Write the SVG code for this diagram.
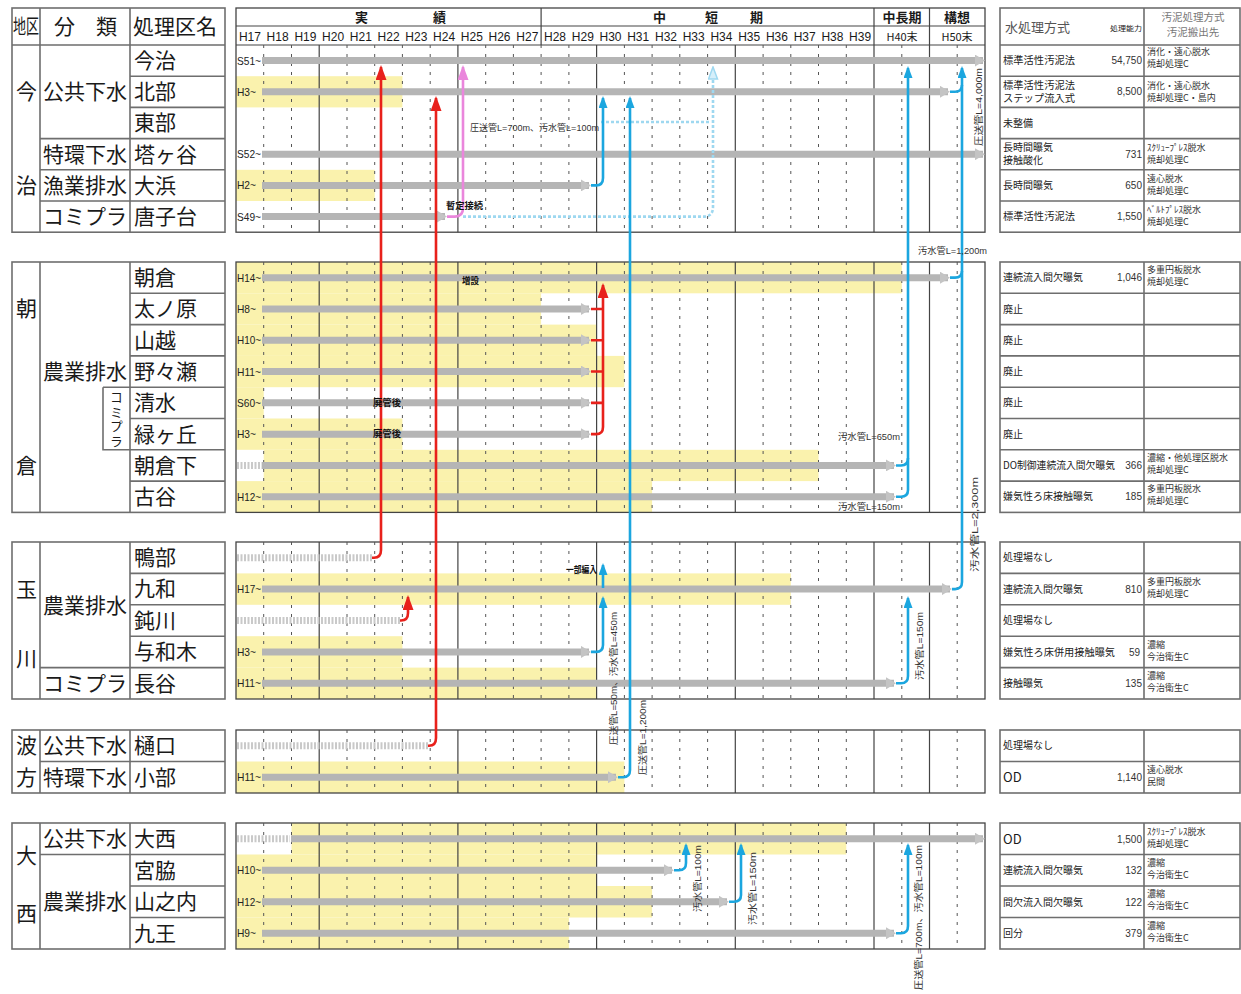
<svg xmlns="http://www.w3.org/2000/svg" width="1241" height="994" viewBox="0 0 1241 994">
<defs>
<style>
.j{font-family:"Noto Sans CJK JP",sans-serif;fill:#1a1a1a}
.big{font-size:21px}
.hd{font-size:13px;font-weight:bold}
.yr{font-family:"Liberation Sans",sans-serif;font-size:12px;fill:#1a1a1a}
.lab{font-family:"Liberation Sans",sans-serif;font-size:11px;fill:#222}
.note{font-family:"Liberation Sans","Noto Sans CJK JP",sans-serif;font-size:9px;fill:#333}
.bnote{font-family:"Noto Sans CJK JP",sans-serif;font-size:9px;font-weight:bold;fill:#111}
.rt{font-family:"Noto Sans CJK JP",sans-serif;font-size:10px;fill:#222}
.rs{font-family:"Noto Sans CJK JP",sans-serif;font-size:9px;fill:#333}
.num{font-family:"Liberation Sans",sans-serif;font-size:10px;fill:#333;text-anchor:end}
.tb{fill:none;stroke:#6e6e6e;stroke-width:1.6}
.box{fill:none;stroke:#444;stroke-width:1.3}
.gs{fill:none;stroke:#444;stroke-width:1.2}
.gd{fill:none;stroke:#555;stroke-width:1;stroke-dasharray:3 6}
.yb{fill:#faf2ad}
.bar{fill:none;stroke:#b5b5b5;stroke-width:7;marker-end:url(#ag)}
.pl{fill:none;stroke:#c9c9c9;stroke-width:7;stroke-dasharray:2 1.5}
.bl{fill:none;stroke:#1ba6df;stroke-width:2.6}
.rd{fill:none;stroke:#e8211b;stroke-width:2.6}
.pk{fill:none;stroke:#ea86dc;stroke-width:2.6}
.lb{fill:none;stroke:#9ed8f0;stroke-width:2.6;stroke-dasharray:3 2}
</style>
<marker id="ag" markerUnits="userSpaceOnUse" viewBox="0 0 10 12" markerWidth="10" markerHeight="12" refX="8" refY="6" orient="auto"><path d="M0 0L10 6L0 12Z" fill="#c4c4c4"/></marker>
<marker id="ab" markerUnits="userSpaceOnUse" viewBox="0 0 12 9" markerWidth="12" markerHeight="9" refX="10" refY="4.5" orient="auto"><path d="M0 0L12 4.5L0 9Z" fill="#1ba6df"/></marker>
<marker id="ar" markerUnits="userSpaceOnUse" viewBox="0 0 15 11" markerWidth="15" markerHeight="11" refX="13" refY="5.5" orient="auto"><path d="M0 0L15 5.5L0 11Z" fill="#e8211b"/></marker>
<marker id="ap" markerUnits="userSpaceOnUse" viewBox="0 0 15 11" markerWidth="15" markerHeight="11" refX="13" refY="5.5" orient="auto"><path d="M0 0L15 5.5L0 11Z" fill="#ea86dc"/></marker>
<marker id="al" markerUnits="userSpaceOnUse" viewBox="0 0 14 11" markerWidth="14" markerHeight="11" refX="12" refY="5.5" orient="auto"><path d="M1 1L13 5.5L1 10Z" fill="#d6effa" stroke="#9ed8f0" stroke-width="1.5"/></marker>
</defs>
<rect width="1241" height="994" fill="#fff"/>

<!-- ===== Left table ===== -->
<g id="left-header">
<rect class="tb" x="12" y="8" width="213" height="224.2"/>
<path class="tb" d="M12 45H225M40 8V232.2M130 8V232.2"/>
<text class="j" x="13" y="34" font-size="20" textLength="26" lengthAdjust="spacingAndGlyphs">地区</text>
<text class="j big" x="54" y="34">分</text>
<text class="j big" x="96" y="34">類</text>
<text class="j big" x="133" y="34">処理区名</text>
</g>
<g id="left-imabari">
<path class="tb" d="M130 76.2H225M130 107.4H225M40 138.6H225M40 169.8H225M40 201H225"/>
<text class="j big" x="16" y="99">今</text>
<text class="j big" x="16" y="193">治</text>
<text class="j big" x="43" y="99">公共下水</text>
<text class="j big" x="43" y="161.5">特環下水</text>
<text class="j big" x="43" y="192.7">漁業排水</text>
<text class="j big" x="43" y="224">コミプラ</text>
<text class="j big" x="134" y="68">今治</text>
<text class="j big" x="134" y="99">北部</text>
<text class="j big" x="134" y="130.3">東部</text>
<text class="j big" x="134" y="161.5">塔ヶ谷</text>
<text class="j big" x="134" y="192.7">大浜</text>
<text class="j big" x="134" y="224">唐子台</text>
</g>
<g id="left-asakura">
<rect class="tb" x="12" y="262" width="213" height="250.4"/>
<path class="tb" d="M40 262V512.4M130 262V512.4M130 293.3H225M130 324.6H225M130 355.9H225M130 387.2H225M130 418.5H225M130 449.8H225M130 481.1H225M103 387.2V449.8H130M103 387.2H130"/>
<text class="j big" x="16" y="316">朝</text>
<text class="j big" x="16" y="473">倉</text>
<text class="j big" x="43" y="379">農業排水</text>
<text class="j" x="116.5" y="391" font-size="13" letter-spacing="1.5" style="writing-mode:vertical-rl">コミプラ</text>
<text class="j big" x="134" y="285">朝倉</text>
<text class="j big" x="134" y="316.3">太ノ原</text>
<text class="j big" x="134" y="347.6">山越</text>
<text class="j big" x="134" y="378.9">野々瀬</text>
<text class="j big" x="134" y="410.2">清水</text>
<text class="j big" x="134" y="441.5">緑ヶ丘</text>
<text class="j big" x="134" y="472.8">朝倉下</text>
<text class="j big" x="134" y="504.1">古谷</text>
</g>
<g id="left-tamagawa">
<rect class="tb" x="12" y="542" width="213" height="157"/>
<path class="tb" d="M40 542V699M130 542V699M130 573.4H225M130 604.8H225M130 636.2H225M40 667.6H225"/>
<text class="j big" x="16" y="597">玉</text>
<text class="j big" x="16" y="666">川</text>
<text class="j big" x="43" y="613">農業排水</text>
<text class="j big" x="43" y="690.7">コミプラ</text>
<text class="j big" x="134" y="565">鴨部</text>
<text class="j big" x="134" y="596.4">九和</text>
<text class="j big" x="134" y="627.8">鈍川</text>
<text class="j big" x="134" y="659.2">与和木</text>
<text class="j big" x="134" y="690.6">長谷</text>
</g>
<g id="left-hatakata">
<rect class="tb" x="12" y="730" width="213" height="63"/>
<path class="tb" d="M40 730V793M130 730V793M40 761.5H225"/>
<text class="j big" x="16" y="753">波</text>
<text class="j big" x="16" y="784.5">方</text>
<text class="j big" x="43" y="753">公共下水</text>
<text class="j big" x="43" y="784.5">特環下水</text>
<text class="j big" x="134" y="753">樋口</text>
<text class="j big" x="134" y="784.5">小部</text>
</g>
<g id="left-onishi">
<rect class="tb" x="12" y="823" width="213" height="126"/>
<path class="tb" d="M40 823V949M130 823V949M40 854.5H225M130 886H225M130 917.5H225"/>
<text class="j big" x="16" y="863">大</text>
<text class="j big" x="16" y="921">西</text>
<text class="j big" x="43" y="846">公共下水</text>
<text class="j big" x="43" y="909">農業排水</text>
<text class="j big" x="134" y="846">大西</text>
<text class="j big" x="134" y="877.5">宮脇</text>
<text class="j big" x="134" y="909">山之内</text>
<text class="j big" x="134" y="940.5">九王</text>
</g>

<!-- ===== Timeline: backgrounds ===== -->
<g id="yellow-bands">
<rect class="yb" x="236" y="76.2" width="166.4" height="31.2"/>
<rect class="yb" x="236" y="169.8" width="138.7" height="31.2"/>
<rect class="yb" x="236" y="262" width="665.8" height="31.3"/>
<rect class="yb" x="236" y="293.3" width="305.1" height="31.3"/>
<rect class="yb" x="236" y="324.6" width="360.6" height="31.3"/>
<rect class="yb" x="236" y="355.9" width="388.4" height="31.3"/>
<rect class="yb" x="236" y="387.2" width="27.7" height="31.3"/>
<rect class="yb" x="236" y="418.5" width="166.4" height="31.3"/>
<rect class="yb" x="263.7" y="449.8" width="554.8" height="31.3"/>
<rect class="yb" x="236" y="481.1" width="416.1" height="31.3"/>
<rect class="yb" x="236" y="573.4" width="554.8" height="31.4"/>
<rect class="yb" x="236" y="636.2" width="166.4" height="31.4"/>
<rect class="yb" x="236" y="667.6" width="360.6" height="31.4"/>
<rect class="yb" x="236" y="761.5" width="388.4" height="31.5"/>
<rect class="yb" x="291.5" y="823" width="554.8" height="31.5"/>
<rect class="yb" x="236" y="854.5" width="360.6" height="31.5"/>
<rect class="yb" x="236" y="886" width="416.1" height="31.5"/>
<rect class="yb" x="236" y="917.5" width="332.9" height="31.5"/>
</g>

<g id="timeline-header">
<rect class="box" x="236" y="8" width="749" height="224.2"/>
<path class="gs" d="M236 26H985M236 45H985M541.1 8V45M874 8V45M929.5 8V45"/>
<text class="j hd" x="355" y="22">実</text>
<text class="j hd" x="433" y="22">績</text>
<text class="j hd" x="653" y="22">中</text>
<text class="j hd" x="705" y="22">短</text>
<text class="j hd" x="750" y="22">期</text>
<text class="j hd" x="902" y="22" text-anchor="middle">中長期</text>
<text class="j hd" x="957" y="22" text-anchor="middle">構想</text>
<g class="yr" text-anchor="middle">
<text x="249.9" y="41" textLength="22" lengthAdjust="spacingAndGlyphs">H17</text>
<text x="277.6" y="41" textLength="22" lengthAdjust="spacingAndGlyphs">H18</text>
<text x="305.4" y="41" textLength="22" lengthAdjust="spacingAndGlyphs">H19</text>
<text x="333.1" y="41" textLength="22" lengthAdjust="spacingAndGlyphs">H20</text>
<text x="360.8" y="41" textLength="22" lengthAdjust="spacingAndGlyphs">H21</text>
<text x="388.6" y="41" textLength="22" lengthAdjust="spacingAndGlyphs">H22</text>
<text x="416.3" y="41" textLength="22" lengthAdjust="spacingAndGlyphs">H23</text>
<text x="444.1" y="41" textLength="22" lengthAdjust="spacingAndGlyphs">H24</text>
<text x="471.8" y="41" textLength="22" lengthAdjust="spacingAndGlyphs">H25</text>
<text x="499.5" y="41" textLength="22" lengthAdjust="spacingAndGlyphs">H26</text>
<text x="527.3" y="41" textLength="22" lengthAdjust="spacingAndGlyphs">H27</text>
<text x="555" y="41" textLength="22" lengthAdjust="spacingAndGlyphs">H28</text>
<text x="582.8" y="41" textLength="22" lengthAdjust="spacingAndGlyphs">H29</text>
<text x="610.5" y="41" textLength="22" lengthAdjust="spacingAndGlyphs">H30</text>
<text x="638.2" y="41" textLength="22" lengthAdjust="spacingAndGlyphs">H31</text>
<text x="666" y="41" textLength="22" lengthAdjust="spacingAndGlyphs">H32</text>
<text x="693.7" y="41" textLength="22" lengthAdjust="spacingAndGlyphs">H33</text>
<text x="721.4" y="41" textLength="22" lengthAdjust="spacingAndGlyphs">H34</text>
<text x="749.2" y="41" textLength="22" lengthAdjust="spacingAndGlyphs">H35</text>
<text x="776.9" y="41" textLength="22" lengthAdjust="spacingAndGlyphs">H36</text>
<text x="804.7" y="41" textLength="22" lengthAdjust="spacingAndGlyphs">H37</text>
<text x="832.4" y="41" textLength="22" lengthAdjust="spacingAndGlyphs">H38</text>
<text x="860.1" y="41" textLength="22" lengthAdjust="spacingAndGlyphs">H39</text>
</g>
<text class="j" x="902" y="41" font-size="11" text-anchor="middle">H40末</text>
<text class="j" x="957" y="41" font-size="11" text-anchor="middle">H50末</text>
</g>

<g id="grid">
<rect class="box" x="236" y="262" width="749" height="250.4"/>
<rect class="box" x="236" y="542" width="749" height="157"/>
<rect class="box" x="236" y="730" width="749" height="63"/>
<rect class="box" x="236" y="823" width="749" height="126"/>
<path class="gs" d="M319.2 45V232.2M457.9 45V232.2M596.6 45V232.2M735.3 45V232.2M874 45V232.2M929.5 45V232.2
M319.2 262V512.4M457.9 262V512.4M596.6 262V512.4M735.3 262V512.4M874 262V512.4M929.5 262V512.4
M319.2 542V699M457.9 542V699M596.6 542V699M735.3 542V699M874 542V699M929.5 542V699
M319.2 730V793M457.9 730V793M596.6 730V793M735.3 730V793M874 730V793M929.5 730V793
M319.2 823V949M457.9 823V949M596.6 823V949M735.3 823V949M874 823V949M929.5 823V949"/>
<path class="gd" d="M263.7 45V232M291.5 45V232M347 45V232M374.7 45V232M402.4 45V232M430.2 45V232M485.7 45V232M513.4 45V232M541.1 45V232M568.9 45V232M624.4 45V232M652.1 45V232M679.8 45V232M707.6 45V232M763.1 45V232M790.8 45V232M818.5 45V232M846.3 45V232M901.8 45V232M957.2 45V232
M263.7 262V512M291.5 262V512M347 262V512M374.7 262V512M402.4 262V512M430.2 262V512M485.7 262V512M513.4 262V512M541.1 262V512M568.9 262V512M624.4 262V512M652.1 262V512M679.8 262V512M707.6 262V512M763.1 262V512M790.8 262V512M818.5 262V512M846.3 262V512M901.8 262V512M957.2 262V512
M263.7 542V699M291.5 542V699M347 542V699M374.7 542V699M402.4 542V699M430.2 542V699M485.7 542V699M513.4 542V699M541.1 542V699M568.9 542V699M624.4 542V699M652.1 542V699M679.8 542V699M707.6 542V699M763.1 542V699M790.8 542V699M818.5 542V699M846.3 542V699M901.8 542V699M957.2 542V699
M263.7 730V793M291.5 730V793M347 730V793M374.7 730V793M402.4 730V793M430.2 730V793M485.7 730V793M513.4 730V793M541.1 730V793M568.9 730V793M624.4 730V793M652.1 730V793M679.8 730V793M707.6 730V793M763.1 730V793M790.8 730V793M818.5 730V793M846.3 730V793M901.8 730V793M957.2 730V793
M263.7 823V949M291.5 823V949M347 823V949M374.7 823V949M402.4 823V949M430.2 823V949M485.7 823V949M513.4 823V949M541.1 823V949M568.9 823V949M624.4 823V949M652.1 823V949M679.8 823V949M707.6 823V949M763.1 823V949M790.8 823V949M818.5 823V949M846.3 823V949M901.8 823V949M957.2 823V949"/>
</g>

<!-- ===== Timeline bars (one per treatment area) ===== -->
<g id="bars-imabari">
<path class="bar" d="M262 60.6H983"/><text class="lab" x="237" y="64.6" textLength="24" lengthAdjust="spacingAndGlyphs">S51~</text>
<path class="bar" d="M262 91.8H948"/><text class="lab" x="237" y="95.8" textLength="19" lengthAdjust="spacingAndGlyphs">H3~</text>
<path class="bar" d="M262 154.2H983"/><text class="lab" x="237" y="158.2" textLength="24" lengthAdjust="spacingAndGlyphs">S52~</text>
<path class="bar" d="M262 185.4H589"/><text class="lab" x="237" y="189.4" textLength="19" lengthAdjust="spacingAndGlyphs">H2~</text>
<path class="bar" d="M262 216.6H445"/><text class="lab" x="237" y="220.6" textLength="24" lengthAdjust="spacingAndGlyphs">S49~</text>
</g>
<g id="bars-asakura">
<path class="bar" d="M262 277.65H948"/><text class="lab" x="237" y="281.6" textLength="24" lengthAdjust="spacingAndGlyphs">H14~</text>
<path class="bar" d="M262 308.95H589"/><text class="lab" x="237" y="313" textLength="19" lengthAdjust="spacingAndGlyphs">H8~</text>
<path class="bar" d="M262 340.25H589"/><text class="lab" x="237" y="344.3" textLength="24" lengthAdjust="spacingAndGlyphs">H10~</text>
<path class="bar" d="M262 371.55H589"/><text class="lab" x="237" y="375.6" textLength="24" lengthAdjust="spacingAndGlyphs">H11~</text>
<path class="bar" d="M262 402.85H589"/><text class="lab" x="237" y="406.9" textLength="24" lengthAdjust="spacingAndGlyphs">S60~</text>
<path class="bar" d="M262 434.15H589"/><text class="lab" x="237" y="438.2" textLength="19" lengthAdjust="spacingAndGlyphs">H3~</text>
<path class="pl" d="M237 465.45H262"/><path class="bar" d="M262 465.45H894"/>
<path class="bar" d="M262 496.75H894"/><text class="lab" x="237" y="500.8" textLength="24" lengthAdjust="spacingAndGlyphs">H12~</text>
</g>
<g id="bars-tamagawa">
<path class="pl" d="M237 557.7H372"/>
<path class="bar" d="M262 589.1H950"/><text class="lab" x="237" y="593.1" textLength="24" lengthAdjust="spacingAndGlyphs">H17~</text>
<path class="pl" d="M237 620.5H400"/>
<path class="bar" d="M262 651.9H589"/><text class="lab" x="237" y="655.9" textLength="19" lengthAdjust="spacingAndGlyphs">H3~</text>
<path class="bar" d="M262 683.3H894"/><text class="lab" x="237" y="687.3" textLength="24" lengthAdjust="spacingAndGlyphs">H11~</text>
</g>
<g id="bars-hatakata">
<path class="pl" d="M237 745.75H428"/>
<path class="bar" d="M262 777.25H616"/><text class="lab" x="237" y="781.3" textLength="24" lengthAdjust="spacingAndGlyphs">H11~</text>
</g>
<g id="bars-onishi">
<path class="pl" d="M237 838.75H290"/><path class="bar" d="M291 838.75H983"/>
<path class="bar" d="M262 870.25H672"/><text class="lab" x="237" y="874.3" textLength="24" lengthAdjust="spacingAndGlyphs">H10~</text>
<path class="bar" d="M262 901.75H727"/><text class="lab" x="237" y="905.8" textLength="24" lengthAdjust="spacingAndGlyphs">H12~</text>
<path class="bar" d="M262 933.25H894"/><text class="lab" x="237" y="937.3" textLength="19" lengthAdjust="spacingAndGlyphs">H9~</text>
</g>

<!-- ===== Connectors ===== -->
<g id="connectors">
<path class="lb" d="M463 216.6H704Q713 216.6 713 207V68" marker-end="url(#al)"/>
<path class="lb" d="M601 122H711"/>
<path class="pk" d="M447 216.6H455Q463 216.6 463 208V67" marker-end="url(#ap)"/>
<path class="rd" d="M372 557.7H374Q381 557.7 381 550V67" marker-end="url(#ar)"/>
<path class="rd" d="M428 745.75H429Q436 745.75 436 738V98" marker-end="url(#ar)"/>
<path class="rd" d="M400 620.5H401Q408 620.5 408 613V597" marker-end="url(#ar)"/>
<path class="rd" d="M591 434.15H596Q603 434.15 603 427V285" marker-end="url(#ar)"/>
<path class="rd" d="M591 308.95H603M591 340.25H603M591 371.55H603M591 402.85H603"/>
<path class="bl" d="M591 185.4H596Q603 185.4 603 178V98" marker-end="url(#ab)"/>
<path class="bl" d="M618 777.25H623Q630 777.25 630 770V98" marker-end="url(#ab)"/>
<path class="bl" d="M950 91.8H955Q962 91.8 962 85"/>
<path class="bl" d="M950 277.65H955Q962 277.65 962 271"/>
<path class="bl" d="M952 589.1H955Q962 589.1 962 582V68" marker-end="url(#ab)"/>
<path class="bl" d="M896 465.45H901Q908 465.45 908 458"/>
<path class="bl" d="M896 496.75H901Q908 496.75 908 490V68" marker-end="url(#ab)"/>
<path class="bl" d="M896 683.3H901Q908 683.3 908 676V598" marker-end="url(#ab)"/>
<path class="bl" d="M591 651.9H596Q603 651.9 603 645V598" marker-end="url(#ab)"/>
<path class="bl" d="M603 588V565" marker-end="url(#ab)"/>
<path class="bl" d="M674 870.25H679Q686 870.25 686 863V845" marker-end="url(#ab)"/>
<path class="bl" d="M729 901.75H734Q741 901.75 741 895V845" marker-end="url(#ab)"/>
<path class="bl" d="M896 933.25H901Q908 933.25 908 926V845" marker-end="url(#ab)"/>
</g>

<g id="connector-labels">
<text class="note" x="470" y="131" textLength="129" lengthAdjust="spacingAndGlyphs">圧送管L=700m、汚水管L=100m</text>
<text class="bnote" x="446" y="209" textLength="37" lengthAdjust="spacingAndGlyphs">暫定接続</text>
<text class="bnote" x="462" y="284" textLength="17" lengthAdjust="spacingAndGlyphs">増設</text>
<text class="bnote" x="373" y="406" textLength="28" lengthAdjust="spacingAndGlyphs">廃管後</text>
<text class="bnote" x="373" y="437" textLength="28" lengthAdjust="spacingAndGlyphs">廃管後</text>
<text class="bnote" x="566" y="573" textLength="31" lengthAdjust="spacingAndGlyphs">一部編入</text>
<text class="note" x="918" y="254" textLength="69" lengthAdjust="spacingAndGlyphs">汚水管L=1,200m</text>
<text class="note" x="838" y="440" textLength="62" lengthAdjust="spacingAndGlyphs">汚水管L=650m</text>
<text class="note" x="838" y="510" textLength="62" lengthAdjust="spacingAndGlyphs">汚水管L=150m</text>
<text class="note" transform="translate(982 146) rotate(-90)" textLength="78" lengthAdjust="spacingAndGlyphs">圧送管L=4,000m</text>
<text class="note" transform="translate(978 572) rotate(-90)" textLength="95" lengthAdjust="spacingAndGlyphs">汚水管L=2,300m</text>
<text class="note" transform="translate(617 745) rotate(-90)" textLength="133" lengthAdjust="spacingAndGlyphs">圧送管L=50m、汚水管L=450m</text>
<text class="note" transform="translate(646 775) rotate(-90)" textLength="75" lengthAdjust="spacingAndGlyphs">圧送管L=1,200m</text>
<text class="note" transform="translate(923 680) rotate(-90)" textLength="68" lengthAdjust="spacingAndGlyphs">汚水管L=150m</text>
<text class="note" transform="translate(701 912) rotate(-90)" textLength="67" lengthAdjust="spacingAndGlyphs">汚水管L=100m</text>
<text class="note" transform="translate(756 925) rotate(-90)" textLength="73" lengthAdjust="spacingAndGlyphs">汚水管L=150m</text>
<text class="note" transform="translate(922 990) rotate(-90)" textLength="145" lengthAdjust="spacingAndGlyphs">圧送管L=700m、汚水管L=100m</text>
</g>

<!-- ===== Right table ===== -->
<g id="right-header">
<rect class="tb" x="1000" y="8" width="240" height="224.2"/>
<path class="tb" d="M1000 45H1240M1144 8V232.2M1000 76.2H1240M1000 107.4H1240M1000 138.6H1240M1000 169.8H1240M1000 201H1240"/>
<text class="j" x="1005" y="32" font-size="13" style="fill:#555">水処理方式</text>
<text class="j" x="1110" y="31" font-size="7" textLength="32" lengthAdjust="spacingAndGlyphs">処理能力</text>
<text class="j" x="1193" y="21" font-size="10.5" text-anchor="middle" style="fill:#777">汚泥処理方式</text>
<text class="j" x="1193" y="36" font-size="10.5" text-anchor="middle" style="fill:#777">汚泥搬出先</text>
</g>
<g id="right-imabari">
<text class="rt" x="1003" y="64" textLength="72" lengthAdjust="spacingAndGlyphs">標準活性汚泥法</text>
<text class="num" x="1142" y="64">54,750</text>
<text class="rs" x="1147" y="55">消化・遠心脱水</text><text class="rs" x="1147" y="67">焼却処理C</text>
<text class="rt" x="1003" y="89" textLength="72" lengthAdjust="spacingAndGlyphs">標準活性汚泥法</text>
<text class="rt" x="1003" y="102" textLength="72" lengthAdjust="spacingAndGlyphs">ステップ流入式</text>
<text class="num" x="1142" y="95">8,500</text>
<text class="rs" x="1147" y="89">消化・遠心脱水</text><text class="rs" x="1147" y="101">焼却処理C・島内</text>
<text class="rt" x="1003" y="127">未整備</text>
<text class="rt" x="1003" y="151">長時間曝気</text>
<text class="rt" x="1003" y="164">接触酸化</text>
<text class="num" x="1142" y="158">731</text>
<text class="rs" x="1147" y="151">ｽｸﾘｭｰﾌﾟﾚｽ脱水</text><text class="rs" x="1147" y="163">焼却処理C</text>
<text class="rt" x="1003" y="189">長時間曝気</text>
<text class="num" x="1142" y="189">650</text>
<text class="rs" x="1147" y="182">遠心脱水</text><text class="rs" x="1147" y="194">焼却処理C</text>
<text class="rt" x="1003" y="220" textLength="72" lengthAdjust="spacingAndGlyphs">標準活性汚泥法</text>
<text class="num" x="1142" y="220">1,550</text>
<text class="rs" x="1147" y="213">ﾍﾞﾙﾄﾌﾟﾚｽ脱水</text><text class="rs" x="1147" y="225">焼却処理C</text>
</g>
<g id="right-asakura">
<rect class="tb" x="1000" y="262" width="240" height="250.4"/>
<path class="tb" d="M1144 262V512.4M1000 293.3H1240M1000 324.6H1240M1000 355.9H1240M1000 387.2H1240M1000 418.5H1240M1000 449.8H1240M1000 481.1H1240"/>
<text class="rt" x="1003" y="281" textLength="80" lengthAdjust="spacingAndGlyphs">連続流入間欠曝気</text>
<text class="num" x="1142" y="281">1,046</text>
<text class="rs" x="1147" y="273">多重円板脱水</text><text class="rs" x="1147" y="285">焼却処理C</text>
<text class="rt" x="1003" y="312.5">廃止</text>
<text class="rt" x="1003" y="343.8">廃止</text>
<text class="rt" x="1003" y="375.1">廃止</text>
<text class="rt" x="1003" y="406.4">廃止</text>
<text class="rt" x="1003" y="437.7">廃止</text>
<text class="rt" x="1003" y="469" textLength="112" lengthAdjust="spacingAndGlyphs">DO制御連続流入間欠曝気</text>
<text class="num" x="1142" y="469">366</text>
<text class="rs" x="1147" y="461">濃縮・他処理区脱水</text><text class="rs" x="1147" y="473">焼却処理C</text>
<text class="rt" x="1003" y="500" textLength="90" lengthAdjust="spacingAndGlyphs">嫌気性ろ床接触曝気</text>
<text class="num" x="1142" y="500">185</text>
<text class="rs" x="1147" y="492">多重円板脱水</text><text class="rs" x="1147" y="504">焼却処理C</text>
</g>
<g id="right-tamagawa">
<rect class="tb" x="1000" y="542" width="240" height="157"/>
<path class="tb" d="M1144 542V699M1000 573.4H1240M1000 604.8H1240M1000 636.2H1240M1000 667.6H1240"/>
<text class="rt" x="1003" y="561">処理場なし</text>
<text class="rt" x="1003" y="593" textLength="80" lengthAdjust="spacingAndGlyphs">連続流入間欠曝気</text>
<text class="num" x="1142" y="593">810</text>
<text class="rs" x="1147" y="585">多重円板脱水</text><text class="rs" x="1147" y="597">焼却処理C</text>
<text class="rt" x="1003" y="624">処理場なし</text>
<text class="rt" x="1003" y="655.5" textLength="112" lengthAdjust="spacingAndGlyphs">嫌気性ろ床併用接触曝気</text>
<text class="num" x="1140" y="655.5">59</text>
<text class="rs" x="1147" y="648">濃縮</text><text class="rs" x="1147" y="660">今治衛生C</text>
<text class="rt" x="1003" y="687">接触曝気</text>
<text class="num" x="1142" y="687">135</text>
<text class="rs" x="1147" y="679">濃縮</text><text class="rs" x="1147" y="691">今治衛生C</text>
</g>
<g id="right-hatakata">
<rect class="tb" x="1000" y="730" width="240" height="63"/>
<path class="tb" d="M1144 730V793M1000 761.5H1240"/>
<text class="rt" x="1003" y="749">処理場なし</text>
<text class="j" x="1003" y="782" font-size="13">OD</text>
<text class="num" x="1142" y="781">1,140</text>
<text class="rs" x="1147" y="773">遠心脱水</text><text class="rs" x="1147" y="785">民間</text>
</g>
<g id="right-onishi">
<rect class="tb" x="1000" y="823" width="240" height="126"/>
<path class="tb" d="M1144 823V949M1000 854.5H1240M1000 886H1240M1000 917.5H1240"/>
<text class="j" x="1003" y="844" font-size="13">OD</text>
<text class="num" x="1142" y="843">1,500</text>
<text class="rs" x="1147" y="835">ｽｸﾘｭｰﾌﾟﾚｽ脱水</text><text class="rs" x="1147" y="847">焼却処理C</text>
<text class="rt" x="1003" y="874" textLength="80" lengthAdjust="spacingAndGlyphs">連続流入間欠曝気</text>
<text class="num" x="1142" y="874">132</text>
<text class="rs" x="1147" y="866">濃縮</text><text class="rs" x="1147" y="878">今治衛生C</text>
<text class="rt" x="1003" y="905.5" textLength="80" lengthAdjust="spacingAndGlyphs">間欠流入間欠曝気</text>
<text class="num" x="1142" y="905.5">122</text>
<text class="rs" x="1147" y="897">濃縮</text><text class="rs" x="1147" y="909">今治衛生C</text>
<text class="rt" x="1003" y="937">回分</text>
<text class="num" x="1142" y="937">379</text>
<text class="rs" x="1147" y="929">濃縮</text><text class="rs" x="1147" y="941">今治衛生C</text>
</g>
</svg>
